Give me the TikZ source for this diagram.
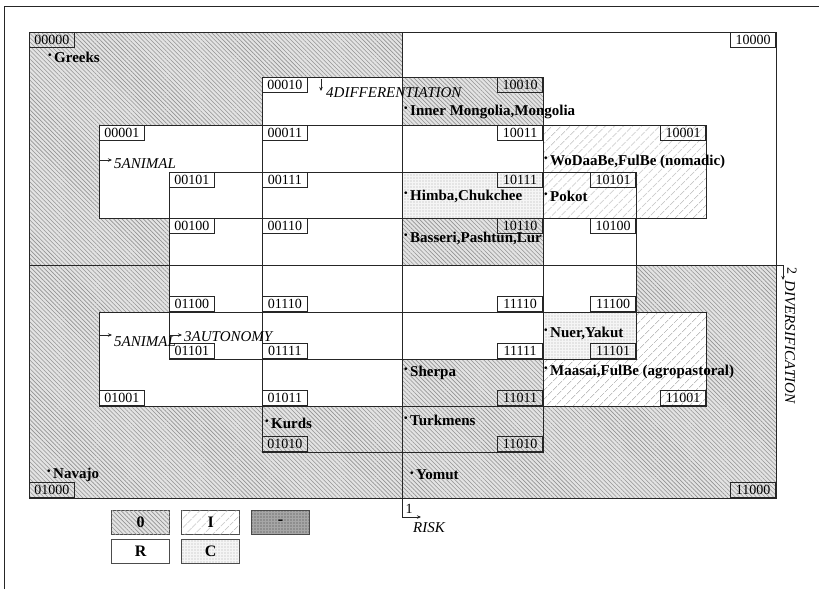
\documentclass[tikz,border=0pt]{standalone}
\usepackage{fontspec}
\setmainfont{Liberation Serif}
\usetikzlibrary{patterns.meta,arrows.meta}
\newcommand\labfont{\fontsize{14}{14}\selectfont}
\newcommand\namefont{\bfseries\fontsize{15}{15}\selectfont}
\newcommand\axfont{\itshape\fontsize{15}{15}\selectfont}
\newcommand\bul{\raisebox{0.25em}{\fontsize{10}{10}\selectfont •}\,}
\begin{document}
\begin{tikzpicture}[x=1pt,y=-1pt,
  ln/.style={draw=black!85,line width=1pt},
  zero/.style={fill=gray!22,postaction={pattern={Lines[angle=-45,distance=3pt,line width=0.6pt]},pattern color=gray!85}},
  light/.style={fill=white,postaction={pattern={Lines[angle=45,distance=6.5pt,line width=0.7pt]},pattern color=gray!75}},
  dotc/.style={fill=gray!8,postaction={pattern={Dots[distance=3pt,radius=0.55pt]},pattern color=gray!65}},
  dark/.style={fill=gray!70,postaction={pattern={Dots[distance=3pt,radius=0.6pt]},pattern color=black!75}},
  lab/.style={draw=black!85,line width=0.9pt,minimum width=45pt,minimum height=15pt,inner sep=0pt,font=\labfont},
  nm/.style={anchor=west,inner sep=0pt,font=\namefont},
  ax/.style={inner sep=0pt,font=\axfont},
  arr/.style={ln,-{Stealth[length=4pt,width=3.5pt]}},
  legbox/.style={draw=black!70,line width=1.3pt,minimum width=58pt,minimum height=24pt,inner sep=0pt,font=\bfseries\fontsize{16}{16}\selectfont}
]
\useasboundingbox (0,0) rectangle (819,589);
% page frame
\draw[line width=0.8pt,black!85] (4,589) -- (4,6) -- (819,6);

% ---- fills ----
\path[zero] (29,32) rectangle (402,265);
\path[zero] (29,265) rectangle (776,498);
\fill[white] (262,77) rectangle (402,265);
\fill[white] (99,125) rectangle (262,218);
\fill[white] (169,172) rectangle (262,265);
\fill[white] (99,312) rectangle (262,406);
\fill[white] (169,265) rectangle (262,359);
\fill[white] (262,265) rectangle (636,312);
\fill[white] (262,312) rectangle (543,359);
\fill[white] (262,359) rectangle (402,406);
\path[light] (543,312) rectangle (706,406);
\path[dotc] (543,312) rectangle (636,359);
\path[zero] (402,77) rectangle (543,125);
\path[zero] (402,218) rectangle (543,265);
\path[dotc] (402,172) rectangle (543,218);
\path[light] (543,125) rectangle (706,218);

% ---- lines ----
\coordinate (b1top) at (402,32);
\coordinate (b1bend) at (402,517);
\coordinate (b1tip) at (421,517);
\coordinate (b2left) at (29,265);
\coordinate (b2bend) at (783,265);
\coordinate (b2tip) at (783,280);
\draw[ln] (29,32) rectangle (776,498);
\draw[arr] (b1top) -- (b1bend) -- (b1tip);
\draw[arr] (b2left) -- (b2bend) -- (b2tip);
\draw[ln] (262,77) rectangle (543,452);
\draw[ln] (99,125) rectangle (706,218);
\draw[ln] (99,312) rectangle (706,406);
\draw[ln] (169,172) rectangle (636,359);

% ---- cell labels ----
\node[lab,anchor=north west] (l00000) at (29,32) {00000};
\node[lab,anchor=north west] (l00010) at (262,77) {00010};
\node[lab,anchor=north west] (l00001) at (99,125) {00001};
\node[lab,anchor=north west] (l00011) at (262,125) {00011};
\node[lab,anchor=north west] (l00101) at (169,172) {00101};
\node[lab,anchor=north west] (l00111) at (262,172) {00111};
\node[lab,anchor=north west] (l00100) at (169,218) {00100};
\node[lab,anchor=north west] (l00110) at (262,218) {00110};
\node[lab,anchor=north east] (l10000) at (776,32) {10000};
\node[lab,anchor=north east] (l10010) at (543,77) {10010};
\node[lab,anchor=north east] (l10011) at (543,125) {10011};
\node[lab,anchor=north east] (l10001) at (706,125) {10001};
\node[lab,anchor=north east] (l10111) at (543,172) {10111};
\node[lab,anchor=north east] (l10101) at (636,172) {10101};
\node[lab,anchor=north east] (l10110) at (543,218) {10110};
\node[lab,anchor=north east] (l10100) at (636,218) {10100};
\node[lab,anchor=south west] (l01100) at (169,312) {01100};
\node[lab,anchor=south west] (l01110) at (262,312) {01110};
\node[lab,anchor=south west] (l01101) at (169,359) {01101};
\node[lab,anchor=south west] (l01111) at (262,359) {01111};
\node[lab,anchor=south west] (l01001) at (99,406) {01001};
\node[lab,anchor=south west] (l01011) at (262,406) {01011};
\node[lab,anchor=south west] (l01010) at (262,452) {01010};
\node[lab,anchor=south west] (l01000) at (29,498) {01000};
\node[lab,anchor=south east] (l11110) at (543,312) {11110};
\node[lab,anchor=south east] (l11100) at (636,312) {11100};
\node[lab,anchor=south east] (l11111) at (543,359) {11111};
\node[lab,anchor=south east] (l11101) at (636,359) {11101};
\node[lab,anchor=south east] (l11011) at (543,406) {11011};
\node[lab,anchor=south east] (l11001) at (706,406) {11001};
\node[lab,anchor=south east] (l11010) at (543,452) {11010};
\node[lab,anchor=south east] (l11000) at (776,498) {11000};

% ---- names ----
\node[nm] (greeks) at (48,57) {\bul Greeks};
\node[nm] (inner) at (404,112) {\bul Inner Mongolia,Mongolia};
\node[nm] (wodaabe) at (544,162) {\bul WoDaaBe,FulBe (nomadic)};
\node[nm] (himba) at (404,196) {\bul Himba,Chukchee};
\node[nm] (pokot) at (544,196) {\bul Pokot};
\node[nm] (basseri) at (404,238) {\bul Basseri,Pashtun,Lur};
\node[nm] (nuer) at (544,333) {\bul Nuer,Yakut};
\node[nm] (maasai) at (544,372) {\bul Maasai,FulBe (agropastoral)};
\node[nm] (sherpa) at (404,373) {\bul Sherpa};
\node[nm] (turkmens) at (404,420) {\bul Turkmens};
\node[nm] (kurds) at (265,423) {\bul Kurds};
\node[nm] (navajo) at (47,475) {\bul Navajo};
\node[nm] (yomut) at (410,475) {\bul Yomut};

% ---- axis labels ----
\coordinate (a4s) at (321,79);
\coordinate (a4e) at (321,91);
\draw[arr] (a4s) -- (a4e);
\node[ax,anchor=west] (diff) at (326,93) {4DIFFERENTIATION};
\coordinate (a5s) at (99,160);
\coordinate (a5e) at (112,160);
\draw[arr] (a5s) -- (a5e);
\node[ax,anchor=west] (anim1) at (114,164) {5ANIMAL};
\coordinate (a5bs) at (99,335);
\coordinate (a5be) at (112,335);
\draw[arr] (a5bs) -- (a5be);
\node[ax,anchor=west] (anim2) at (114,342) {5ANIMAL};
\coordinate (a3s) at (169,335);
\coordinate (a3e) at (182,335);
\draw[arr] (a3s) -- (a3e);
\node[ax,anchor=west] (auto) at (184,337) {3AUTONOMY};
\node[inner sep=0pt,font=\labfont] (one) at (409,509) {1};
\node[ax] (risk) at (429,528) {RISK};
\node[inner sep=0pt,font=\labfont,rotate=-90] (two) at (792,271) {2};
\node[ax,rotate=-90] (divers) at (790,342) {DIVERSIFICATION};

% ---- legend ----
\node[legbox,zero,anchor=north west] (lg0) at (111,510) {0};
\node[legbox,light,anchor=north west] (lgI) at (181,510) {I};
\node[legbox,dark,anchor=north west] (lgD) at (251,510) {-};
\node[legbox,fill=white,anchor=north west] (lgR) at (111,539) {R};
\node[legbox,dotc,anchor=north west] (lgC) at (181,539) {C};
\end{tikzpicture}
\end{document}
